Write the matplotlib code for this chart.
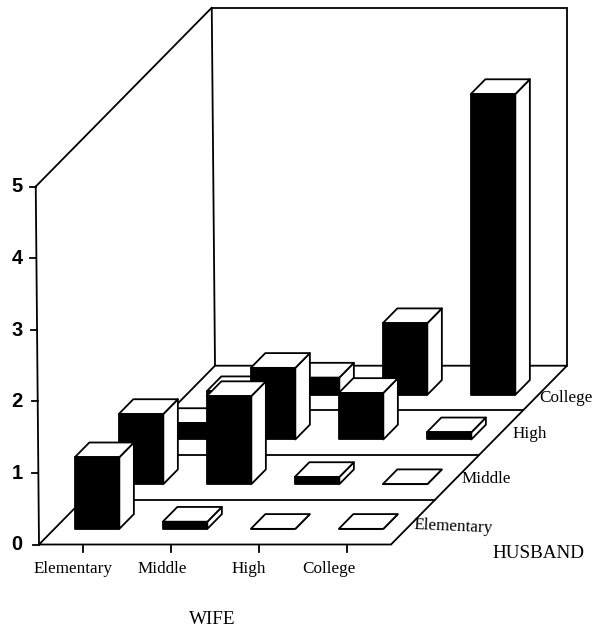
import matplotlib
matplotlib.use("Agg")
import matplotlib.pyplot as plt
from matplotlib.patches import Polygon

wife_labels = ["Elementary", "Middle", "High", "College"]
husband_labels = ["Elementary", "Middle", "High", "College"]
husband_elementary = [1.0, 0.1, 0.0, 0.0]
husband_middle = [0.98, 1.23, 0.1, 0.0]
husband_high = [0.23, 1.0, 0.65, 0.1]
husband_college = [0.05, 0.24, 1.0, 4.2]
rows = [husband_elementary, husband_middle, husband_high, husband_college]
z_ticks = [0, 1, 2, 3, 4, 5]

# oblique projection: wife / husband / value -> figure pixels
X0, Y0 = 39.0, 544.5
DX_WIFE, DX_HUSB, DY_HUSB, DZ = 88.0, 44.0, 44.7, 71.6
LEAN = 0.65
BAR_W0, BAR_W1 = 0.232, 0.738
BAR_H0, BAR_H1 = 0.35, 0.68
LW = 1.3
WIFE_LABEL_SHIFT = [-10, -9, -10, -18]
HUSB_LABEL_SHIFT = [(0.5, 2.5), (5, 1.5), (12, 1.5), (-6, 10)]


def proj(w, h, z=0.0, lean=0.0):
    return (X0 + DX_WIFE * w + DX_HUSB * h - lean * z,
            Y0 - DY_HUSB * h - DZ * z)


fig = plt.figure(figsize=(5.92, 6.29), dpi=100)
ax = fig.add_axes([0, 0, 1, 1])
ax.set_xlim(0, 592)
ax.set_ylim(629, 0)
ax.axis("off")

n_w, n_h = len(wife_labels), len(husband_labels)
z_max = z_ticks[-1]


def line(a, b, zo=1):
    ax.plot([a[0], b[0]], [a[1], b[1]], color="black", lw=LW,
            solid_capstyle="round", zorder=zo)


# walls
line(proj(0, 0, 0, LEAN), proj(0, 0, z_max, LEAN))
line(proj(0, 0, z_max, LEAN), proj(0, n_h, z_max, LEAN))
line(proj(0, n_h, 0, LEAN), proj(0, n_h, z_max, LEAN))
line(proj(0, n_h, z_max, LEAN), proj(n_w, n_h, z_max))
line(proj(n_w, n_h, 0), proj(n_w, n_h, z_max))

# floor
floor = [proj(0, 0), proj(n_w, 0), proj(n_w, n_h), proj(0, n_h)]
ax.add_patch(Polygon(floor, closed=True, fc="white", ec="black", lw=LW, zorder=1.5))
for j in range(1, n_h):
    line(proj(0, j), proj(n_w, j), zo=1.6)

# ticks and labels
for z in z_ticks:
    px, py = proj(0, 0, z, LEAN)
    ax.plot([px - 6, px], [py, py], color="black", lw=LW, zorder=2)
    ax.text(17, py + 0.5, str(z), ha="center", va="center", fontsize=14.5,
            fontweight="bold", family="Liberation Sans")
for i, name in enumerate(wife_labels):
    px, py = proj(i + 0.5, 0)
    ax.plot([px, px], [py, py + 7], color="black", lw=LW, zorder=2)
    ax.text(px + WIFE_LABEL_SHIFT[i], 569, name, ha="center", va="center", fontsize=12.3,
            family="Liberation Serif")
for j, name in enumerate(husband_labels):
    px, py = proj(n_w, j + 0.5)
    sx, sy = HUSB_LABEL_SHIFT[j]
    ax.text(px + sx, py + sy, name, ha="left", va="center", fontsize=12.3,
            rotation=-2.5 if j == 0 else 0, rotation_mode="anchor",
            family="Liberation Serif")
ax.text(212, 620, "WIFE", ha="center", va="center", fontsize=13.8, family="Liberation Serif")
ax.text(538, 554, "HUSBAND", ha="center", va="center", fontsize=13.8, family="Liberation Serif")

# bars, painted back to front
order = 10
for j in range(n_h - 1, -1, -1):
    for i in range(n_w):
        v = rows[j][i]
        w0, w1 = i + BAR_W0, i + BAR_W1
        h0, h1 = j + BAR_H0, j + BAR_H1
        side = [proj(w1, h0, 0), proj(w1, h1, 0), proj(w1, h1, v), proj(w1, h0, v)]
        top = [proj(w0, h0, v), proj(w1, h0, v), proj(w1, h1, v), proj(w0, h1, v)]
        front = [proj(w0, h0, 0), proj(w1, h0, 0), proj(w1, h0, v), proj(w0, h0, v)]
        ax.add_patch(Polygon(side, closed=True, fc="white", ec="black", lw=LW,
                             joinstyle="round", zorder=order))
        ax.add_patch(Polygon(top, closed=True, fc="white", ec="black", lw=LW,
                             joinstyle="round", zorder=order))
        ax.add_patch(Polygon(front, closed=True, fc="black", ec="black", lw=LW,
                             joinstyle="round", zorder=order))
        order += 1

fig.savefig("out.png", dpi=100)
